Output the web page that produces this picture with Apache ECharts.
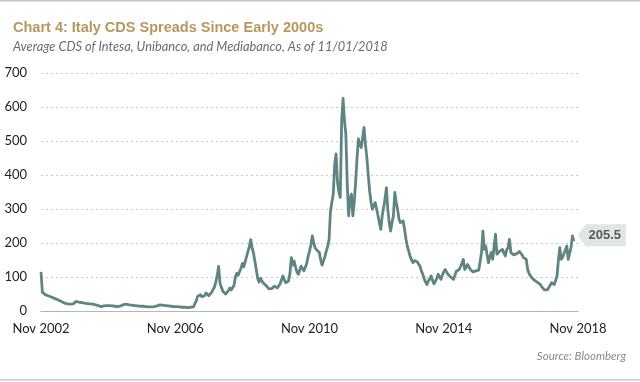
<!DOCTYPE html>
<html>
<head>
<meta charset="utf-8">
<script src="https://cdn.jsdelivr.net/npm/echarts@6/dist/echarts.min.js"></script>
<style>
html,body{margin:0;padding:0;background:#fff;}
#chart{width:640px;height:382px;}
</style>
</head>
<body>
<div id="chart"></div>
<script>
// Semi-monthly readings (two per month), each block runs Nov -> Oct
const cds2003 = [115,55,50,48,47,45,44,42,40,38,36,35,33,31,29,27,25,23,22,21,21,20,20,21];
const cds2004 = [22,28,27,26,25,25,24,23,23,22,22,21,21,20,19,18,17,16,14,13,14,15,15,16];
const cds2005 = [16,16,16,15,14,14,13,13,14,15,17,19,20,20,19,18,17,17,16,16,16,15,15,14];
const cds2006 = [14,14,14,13,13,12,12,12,12,13,14,15,17,18,18,17,16,16,15,15,14,14,14,13];
const cds2007 = [13,13,12,12,12,11,11,11,11,10,10,11,11,12,14,30,43,40,48,42,38,45,53,48];
const cds2008 = [45,43,55,63,70,85,105,131,82,70,58,55,50,48,60,68,62,58,75,100,111,105,116,125];
const cds2009 = [140,130,145,150,175,190,210,185,170,145,120,95,85,96,88,82,78,75,70,65,63,66,70,73];
const cds2010 = [70,68,72,80,92,103,92,83,85,88,110,157,135,147,130,115,108,120,132,125,118,122,140,160];
const cds2011 = [176,195,221,200,186,180,175,172,150,135,140,160,176,190,210,294,320,344,430,462,380,350,334,560];
const cds2012 = [625,560,520,373,280,330,344,280,320,380,450,506,490,481,510,540,490,452,400,353,320,299,310,319];
const cds2013 = [300,280,260,240,280,304,330,363,299,260,235,260,280,349,320,299,270,260,262,265,240,211,190,175];
const cds2014 = [160,150,142,148,152,145,138,132,118,108,95,85,78,88,95,103,90,80,78,95,108,100,93,105];
const cds2015 = [115,122,115,108,105,100,95,93,105,117,120,122,130,140,152,122,128,137,130,122,118,115,113,118];
const cds2016 = [115,120,145,172,235,181,191,165,142,160,172,152,190,226,167,172,176,178,181,170,162,180,186,211];
const cds2017 = [172,168,165,162,168,172,175,176,165,157,155,152,122,110,105,98,93,90,88,84,80,78,72,68];
const cds2018 = [62,58,62,68,75,83,80,78,90,103,150,186,152,158,162,180,191,152,170,186,221,205.5];

const values = [].concat(cds2003, cds2004, cds2005, cds2006, cds2007, cds2008, cds2009, cds2010,
  cds2011, cds2012, cds2013, cds2014, cds2015, cds2016, cds2017, cds2018);

const monthNames = ['Jan','Feb','Mar','Apr','May','Jun','Jul','Aug','Sep','Oct','Nov','Dec'];
const halfMonthCount = 385; // Nov 2002 .. Nov 2018
const categories = [];
for (let k = 0; k < halfMonthCount; k++) {
  const m = 10 + Math.floor(k / 2);
  categories.push(monthNames[m % 12] + ' ' + (2002 + Math.floor(m / 12)));
}
const labelEvery = 96; // every 4 years
const yTicks = {min: 0, max: 700, interval: 100};
const lastValue = values[values.length - 1];

const chart = echarts.init(document.getElementById('chart'), null, {renderer: 'canvas'});
chart.setOption({
  backgroundColor: '#ffffff',
  animation: false,
  title: [{
    text: 'Chart 4: Italy CDS Spreads Since Early 2000s',
    left: 8, top: 15,
    textStyle: {fontFamily: 'Liberation Sans, Arial', fontWeight: 'bold', fontSize: 14.5, color: '#b8975c'}
  }, {
    text: 'Average CDS of Intesa, Unibanco, and Mediabanco, As of 11/01/2018',
    left: 8, top: 35,
    textStyle: {fontFamily: 'Lato', fontStyle: 'italic', fontWeight: 'normal', fontSize: 12.8, color: '#6b6b6b'}
  }, {
    text: 'Source: Bloomberg',
    right: 9, top: 345,
    textStyle: {fontFamily: 'Lato', fontStyle: 'italic', fontWeight: 'normal', fontSize: 11.5, color: '#8a8a8a'}
  }],
  graphic: [
    {type: 'rect', shape: {x: 0, y: 0, width: 640, height: 1.5}, style: {fill: '#c4c4c4'}},
    {type: 'rect', shape: {x: 0, y: 379, width: 640, height: 1.5}, style: {fill: '#cccccc'}}
  ],
  grid: {left: 41, right: 62, top: 73, bottom: 71},
  xAxis: {
    type: 'category',
    data: categories,
    boundaryGap: false,
    axisLine: {lineStyle: {color: '#b5b5b5', width: 1.2}},
    axisTick: {show: false},
    axisLabel: {
      interval: function (i) { return i % labelEvery === 0; },
      margin: 11,
      fontFamily: 'Lato', fontSize: 13, color: '#222'
    },
    splitLine: {show: false}
  },
  yAxis: {
    type: 'value',
    min: yTicks.min, max: yTicks.max, interval: yTicks.interval,
    axisLine: {show: false},
    axisTick: {show: false},
    axisLabel: {margin: 14, fontFamily: 'Lato', fontSize: 13, color: '#222'},
    splitLine: {lineStyle: {color: '#c9c9c9', type: [2, 3], width: 1}}
  },
  series: [{
    type: 'line',
    data: values,
    showSymbol: false,
    symbol: 'none',
    lineStyle: {color: '#5f8582', width: 2.8, join: 'round'},
    markPoint: {
      silent: true,
      data: [{
        coord: [values.length - 1, lastValue],
        symbol: 'path://M0,11 L8,0 L48,0 L48,22 L8,22 Z',
        symbolKeepAspect: false,
        symbolSize: [48, 22],
        symbolOffset: [28, -6],
        itemStyle: {color: '#dfe6e4'},
        label: {
          show: true,
          formatter: String(lastValue),
          offset: [3, 0],
          fontFamily: 'Liberation Sans, Arial', fontWeight: 'bold', fontSize: 13, color: '#5a5a5a'
        }
      }]
    }
  }]
});
</script>
</body>
</html>
